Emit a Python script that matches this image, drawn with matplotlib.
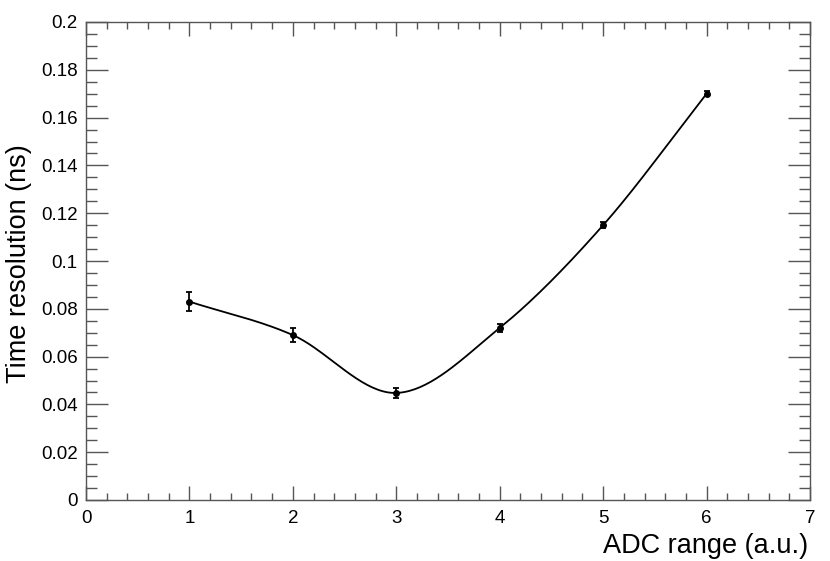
import numpy as np
import matplotlib
matplotlib.use("Agg")
import matplotlib.pyplot as plt
from matplotlib.ticker import MultipleLocator, FuncFormatter

adc = [1, 2, 3, 4, 5, 6]
resolution = [0.083, 0.069, 0.0448, 0.072, 0.115, 0.170]
errors = [0.004, 0.003, 0.0020, 0.0017, 0.0012, 0.0010]

plt.rcParams['font.family'] = ['Liberation Sans', 'DejaVu Sans']

def smooth_curve(x, y, n=40):
    # Catmull-Rom style cubic Hermite curve through the points (like ROOT's "C")
    x = np.asarray(x, float); y = np.asarray(y, float)
    k = len(x)
    m = np.empty(k)
    m[1:-1] = (y[2:] - y[:-2]) / (x[2:] - x[:-2])
    m[0] = (y[1] - y[0]) / (x[1] - x[0])
    m[-1] = (y[-1] - y[-2]) / (x[-1] - x[-2])
    xs_all, ys_all = [], []
    for i in range(k - 1):
        h = x[i + 1] - x[i]
        t = np.linspace(0, 1, n)
        h00 = 2*t**3 - 3*t**2 + 1
        h10 = t**3 - 2*t**2 + t
        h01 = -2*t**3 + 3*t**2
        h11 = t**3 - t**2
        xs_all.append(x[i] + t*h)
        ys_all.append(h00*y[i] + h10*h*m[i] + h01*y[i+1] + h11*h*m[i+1])
    return np.concatenate(xs_all), np.concatenate(ys_all)

W, H = 830, 561
fig = plt.figure(figsize=(W / 100, H / 100), dpi=100)
ax = fig.add_axes([86/W, 1 - 500/H, (810 - 86)/W, (500 - 22)/H])

xs, ys = smooth_curve(adc, resolution)
ax.plot(xs, ys, color='black', lw=1.3)
ax.errorbar(adc, resolution, yerr=errors, fmt='o', color='black', ms=4,
            elinewidth=1.3, capsize=2.5, capthick=1.3)

ax.set_xlim(0, 7)
ax.set_ylim(0, 0.2)
ax.xaxis.set_major_locator(MultipleLocator(1))
ax.xaxis.set_minor_locator(MultipleLocator(0.2))
ax.yaxis.set_major_locator(MultipleLocator(0.02))
ax.yaxis.set_minor_locator(MultipleLocator(0.005))
ax.yaxis.set_major_formatter(FuncFormatter(lambda v, p: ('%g' % round(v, 4))))

for s in ax.spines.values():
    s.set_color('#555555')
    s.set_linewidth(1.0)

ax.tick_params(axis='x', which='major', direction='in', length=10, width=1.0,
               color='#555555', top=True, labelsize=13.5, pad=7)
ax.tick_params(axis='x', which='minor', direction='in', length=5, width=1.0,
               color='#555555', top=True)
ax.tick_params(axis='y', which='major', direction='in', length=15.5, width=1.0,
               color='#555555', right=True, labelsize=13.5, pad=6)
ax.tick_params(axis='y', which='minor', direction='in', length=7.7, width=1.0,
               color='#555555', right=True)

fig.text(808/W, 1 - 553/H, 'ADC range (a.u.)', fontsize=19.5,
         ha='right', va='baseline')
fig.text(6/W, 1 - 383/H, 'Time resolution (ns)', fontsize=19.5,
         rotation=90, ha='left', va='bottom')

fig.savefig('out.png', dpi=100)
